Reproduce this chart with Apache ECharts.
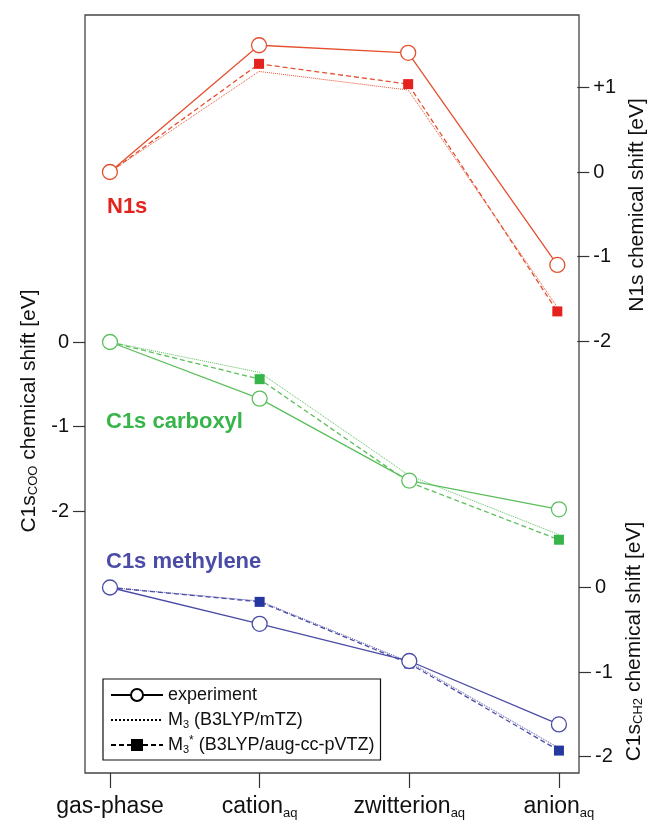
<!DOCTYPE html>
<html>
<head>
<meta charset="UTF-8">
<title></title>
</head>
<body style="margin: 0">
<div id="container" style="width: 656px; height: 820px"></div>
<script src="https://cdn.jsdelivr.net/npm/echarts@6/dist/echarts.min.js"></script>
<script type="text/javascript">
// categories along the bottom
var categories = ['gas-phase', 'cation', 'zwitterion', 'anion'];
var catSub = ['', 'aq', 'aq', 'aq'];

// N1s chemical shift [eV]
var n1sExp = [0, 1.50, 1.41, -1.10];
var n1sM3 = [0, 1.19, 0.97, -1.60];
var n1sM3s = [0, 1.28, 1.04, -1.65];

// C1s carboxyl (COO) chemical shift [eV]
var cooExp = [0, -0.67, -1.64, -1.98];
var cooM3 = [0, -0.36, -1.58, -2.28];
var cooM3s = [0, -0.44, -1.66, -2.34];

// C1s methylene (CH2) chemical shift [eV]
var ch2Exp = [0, -0.43, -0.87, -1.62];
var ch2M3 = [0, -0.16, -0.88, -1.90];
var ch2M3s = [0, -0.17, -0.90, -1.93];

// tick labels of the three y axes
var n1sTicks = [-2, -1, 0, 1];
var cooTicks = [-2, -1, 0];
var ch2Ticks = [-2, -1, 0];

var RED = '#e4512f', RED_SQ = '#e5231e';
var GREEN = '#5cbf5c', GREEN_SQ = '#38b54a';
var BLUE = '#4a4ca6', BLUE_SQ = '#2637a0';
var FONT = '"Liberation Sans", Arial, sans-serif';

var dom = document.getElementById('container');
var myChart = echarts.init(dom);

var S = 84.5; // px per eV, same on all three y axes
var L = 85, R = 77;
var XMIN = -0.167, XMAX = 3.134;

function pts(arr) {
    return arr.map(function (v, i) { return [i, v]; });
}
function yRange(top, height, zeroY) {
    return { min: -(top + height - zeroY) / S, max: (zeroY - top) / S };
}
function tickFmt(v) {
    v = Math.round(v);
    return v > 0 ? '+' + v : String(v);
}

var gN = { top: 15, height: 380, zero: 172 };
var gC = { top: 250, height: 322, zero: 342 };
var gH = { top: 510, height: 263, zero: 587.5 };

function yAxisFor(idx, g, pos, ticks, name, gap) {
    var r = yRange(g.top, g.height, g.zero);
    return {
        type: 'value', gridIndex: idx, position: pos, min: r.min, max: r.max,
        splitLine: { show: false },
        axisLine: { show: false, onZero: false },
        axisTick: { show: true, inside: false, length: 12, customValues: ticks, lineStyle: { color: '#333', width: 1.2 } },
        axisLabel: { customValues: ticks, formatter: tickFmt, fontSize: 20, fontFamily: FONT, color: '#111', margin: 16 },
        name: name, nameLocation: 'middle', nameRotate: 90, nameGap: gap,
        nameTextStyle: {
            fontSize: 21, fontFamily: FONT, color: '#111',
            rich: { sub: { fontSize: 13, fontFamily: FONT, color: '#111', verticalAlign: 'bottom', lineHeight: 12 } }
        }
    };
}

function hiddenX(idx) {
    return { type: 'value', gridIndex: idx, min: XMIN, max: XMAX, show: false };
}

function expSeries(name, data, y, c) {
    return {
        name: name, type: 'line', xAxisIndex: y, yAxisIndex: y, data: pts(data), z: 4,
        symbol: 'circle', symbolSize: 15,
        itemStyle: { color: '#fff', borderColor: c, borderWidth: 1.3 },
        lineStyle: { color: c, width: 1.3 }
    };
}
function m3Series(name, data, y, c) {
    return {
        name: name, type: 'line', xAxisIndex: y, yAxisIndex: y, data: pts(data), z: 2,
        symbol: 'none', lineStyle: { color: c, width: 1, type: 'dotted' }
    };
}
function m3sSeries(name, data, y, c, sq) {
    return {
        name: name, type: 'line', xAxisIndex: y, yAxisIndex: y, data: pts(data), z: 3,
        symbol: 'rect', symbolSize: 10,
        itemStyle: { color: sq },
        lineStyle: { color: c, width: 1.3, type: [5, 3] }
    };
}

var legendText = {
    'experiment': 'experiment',
    'M3': 'M{sub|3} (B3LYP/mTZ)',
    'M3*': 'M{sub|3}{sup|*} (B3LYP/aug-cc-pVTZ)'
};

option = {
    animation: false,
    backgroundColor: '#fff',
    grid: [
        { left: L, right: R, top: 15, bottom: 47, show: true, borderColor: '#444', borderWidth: 1.3 },
        { left: L, right: R, top: gN.top, height: gN.height },
        { left: L, right: R, top: gC.top, height: gC.height },
        { left: L, right: R, top: gH.top, height: gH.height }
    ],
    xAxis: [
        {
            type: 'value', gridIndex: 0, min: XMIN, max: XMAX,
            splitLine: { show: false },
            axisLine: { show: false, onZero: false },
            axisTick: { show: true, length: 15, customValues: [0, 1, 2, 3], lineStyle: { color: '#333', width: 1.2 } },
            axisLabel: {
                customValues: [0, 1, 2, 3], margin: 21, fontSize: 23, fontFamily: FONT, color: '#111', lineHeight: 26,
                formatter: function (v) {
                    var i = Math.round(v);
                    return catSub[i] ? categories[i] + '{sub|' + catSub[i] + '}' : categories[i];
                },
                rich: { sub: { fontSize: 13, fontFamily: FONT, color: '#111', verticalAlign: 'bottom', lineHeight: 10 } }
            }
        },
        hiddenX(1), hiddenX(2), hiddenX(3)
    ],
    yAxis: [
        { type: 'value', gridIndex: 0, min: 0, max: 1, show: false },
        yAxisFor(1, gN, 'right', n1sTicks, 'N1s chemical shift [eV]', 39),
        yAxisFor(2, gC, 'left', cooTicks, 'C1s{sub|COO} chemical shift [eV]', 45),
        yAxisFor(3, gH, 'right', ch2Ticks, 'C1s{sub|CH2} chemical shift [eV]', 42)
    ],
    legend: {
        data: [
            'experiment',
            { name: 'M3', itemStyle: { opacity: 0 } },
            'M3*'
        ],
        orient: 'vertical', left: 103, top: 679,
        padding: [6, 6, 5, 7], itemGap: 5,
        itemWidth: 52, itemHeight: 15,
        borderColor: '#111', borderWidth: 1.2,
        backgroundColor: '#fff',
        selectedMode: false,
        formatter: function (n) { return legendText[n]; },
        textStyle: {
            fontSize: 18, fontFamily: FONT, color: '#111', lineHeight: 20,
            rich: {
                sub: { fontSize: 11, fontFamily: FONT, color: '#111', verticalAlign: 'bottom', lineHeight: 10 },
                sup: { fontSize: 12, fontFamily: FONT, color: '#111', verticalAlign: 'top', lineHeight: 12 }
            }
        }
    },
    graphic: [
        { type: 'text', left: 107, top: 196, style: { text: 'N1s', fill: RED_SQ, font: 'bold 22px ' + FONT } },
        { type: 'text', left: 106, top: 411, style: { text: 'C1s carboxyl', fill: GREEN_SQ, font: 'bold 22px ' + FONT } },
        { type: 'text', left: 106, top: 551, style: { text: 'C1s methylene', fill: BLUE, font: 'bold 22px ' + FONT } }
    ],
    series: [
        // legend-only entries, drawn in black
        { name: 'experiment', type: 'line', data: [], symbol: 'circle', symbolSize: 13,
          itemStyle: { color: '#fff', borderColor: '#000', borderWidth: 1.2 }, lineStyle: { color: '#000', width: 1.2 } },
        { name: 'M3', type: 'line', data: [], symbol: 'none',
          itemStyle: { color: '#000' }, lineStyle: { color: '#000', width: 1, type: 'dotted' } },
        { name: 'M3*', type: 'line', data: [], symbol: 'rect', symbolSize: 9,
          itemStyle: { color: '#000' }, lineStyle: { color: '#000', width: 1.2, type: [5, 3] } },

        m3Series('N1s M3', n1sM3, 1, RED),
        m3sSeries('N1s M3*', n1sM3s, 1, RED, RED_SQ),
        expSeries('N1s exp', n1sExp, 1, RED),

        m3Series('COO M3', cooM3, 2, GREEN),
        m3sSeries('COO M3*', cooM3s, 2, GREEN, GREEN_SQ),
        expSeries('COO exp', cooExp, 2, GREEN),

        m3Series('CH2 M3', ch2M3, 3, BLUE),
        m3sSeries('CH2 M3*', ch2M3s, 3, BLUE, BLUE_SQ),
        expSeries('CH2 exp', ch2Exp, 3, BLUE)
    ]
};

if (option && typeof option === 'object') {
    myChart.setOption(option, true);
}
</script>
</body>
</html>
